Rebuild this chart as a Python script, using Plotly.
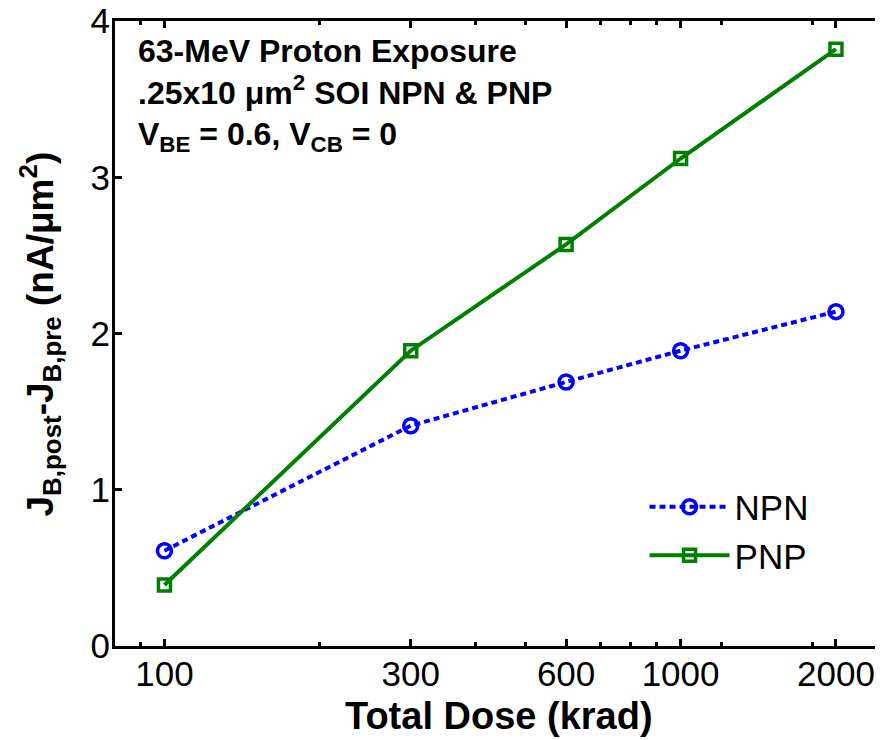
import math
import plotly.graph_objects as go

# ---- data ----
dose = [100, 300, 600, 1000, 2000]
npn = [0.61, 1.41, 1.69, 1.89, 2.14]
pnp = [0.39, 1.89, 2.57, 3.12, 3.82]
xtick_vals = [100, 300, 600, 1000, 2000]
xtick_text = ["100", "300", "600", "1000", "2000"]
x_minor_vals = [90, 200, 400, 500, 700, 800, 900, 1200, 1800, 2400]
ytick_vals = [0, 1, 2, 3, 4]

TICKFONT = dict(family="Liberation Sans, Arial", size=35, color="black")

fig = go.Figure()
fig.add_trace(go.Scatter(
    x=dose, y=npn, name="NPN", mode="lines+markers",
    line=dict(color="#0000FF", width=4, dash="6px,4px"),
    marker=dict(symbol="circle-open", size=14, color="#0000FF", line=dict(width=3.5, color="#0000FF")),
))
fig.add_trace(go.Scatter(
    x=dose, y=pnp, name="PNP", mode="lines+markers",
    line=dict(color="#008000", width=4),
    marker=dict(symbol="square-open", size=12, color="#008000", line=dict(width=3.5, color="#008000")),
))

# page body has an 8px margin, so the figure is sized/offset to compensate
fig.update_layout(
    width=875, height=732,
    margin=dict(l=107, r=0, t=13, b=94, autoexpand=False),
    paper_bgcolor="white", plot_bgcolor="white",
    showlegend=True,
    legend=dict(
        x=0.6895, y=0.184, xanchor="left", yanchor="middle",
        bgcolor="rgba(0,0,0,0)", borderwidth=0,
        font=dict(family="Liberation Sans, Arial", size=35, color="black"),
        itemwidth=80, tracegroupgap=0,
    ),
)

fig.update_xaxes(
    type="log", automargin=False,
    range=[math.log10(80.2), math.log10(2467)],
    tickmode="array", tickvals=xtick_vals, ticktext=xtick_text,
    ticks="inside", ticklen=7, tickwidth=3, tickcolor="black",
    minor=dict(tickmode="array", tickvals=x_minor_vals, ticks="inside", ticklen=4, tickwidth=3, tickcolor="black", showgrid=False),
    showline=True, linewidth=3, linecolor="black", mirror="ticks",
    showgrid=False, zeroline=False,
    tickfont=TICKFONT, ticklabelstandoff=-5, ticklabeloverflow="allow",
)
fig.update_yaxes(
    range=[0, 4], automargin=False,
    tickmode="array", tickvals=ytick_vals,
    ticks="inside", ticklen=7, tickwidth=3, tickcolor="black",
    showline=True, linewidth=3, linecolor="black", mirror="ticks",
    showgrid=False, zeroline=False,
    tickfont=TICKFONT, ticklabelstandoff=-5, ticklabeloverflow="allow",
)

fig.add_annotation(
    xref="paper", yref="paper", x=0.5, y=-0.112, xanchor="center", yanchor="middle",
    showarrow=False, text="Total Dose (krad)",
    font=dict(family="Liberation Sans, Arial", size=38, weight="bold", color="black"),
)

fig.add_annotation(
    xref="paper", yref="paper", x=-0.0977, y=0.5, xanchor="center", yanchor="middle",
    textangle=-90, showarrow=False,
    text="J<sub>B,post</sub>-J<sub>B,pre</sub> (nA/\u03bcm<sup>2</sup>)",
    font=dict(family="Liberation Sans, Arial", size=37, weight="bold", color="black"),
)

fig.add_annotation(
    xref="paper", yref="paper", x=0.0273, y=0.9846, xanchor="left", yanchor="top",
    align="left", showarrow=False,
    text="63-MeV Proton Exposure<br>.25x10 \u03bcm<sup>2</sup> SOI NPN & PNP<br>V<sub>BE</sub> = 0.6, V<sub>CB</sub> = 0",
    font=dict(family="Liberation Sans, Arial", size=32, weight="bold", color="black"),
)

fig.write_html("out.html")
